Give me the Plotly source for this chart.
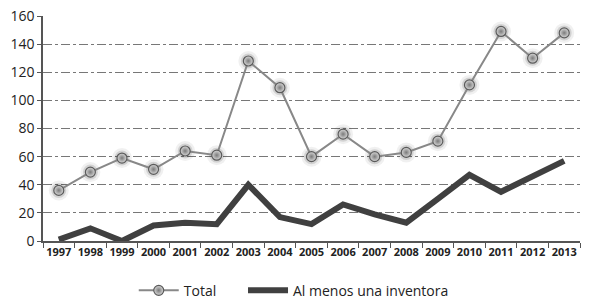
import plotly.graph_objects as go

years = [str(y) for y in range(1997, 2014)]
total = [36, 49, 59, 51, 64, 61, 128, 109, 60, 76, 60, 63, 71, 111, 149, 130, 148]
inventora = [1, 9, 0, 11, 13, 12, 40, 17, 12, 26, 19, 13, 30, 47, 35, 46, 57]
y_ticks = [0, 20, 40, 60, 80, 100, 120, 140, 160]

fig = go.Figure()

fig.add_trace(go.Scatter(
    x=years, y=inventora, mode="lines", name="Al menos una inventora",
    line=dict(color="#404040", width=6), showlegend=False))

fig.add_trace(go.Scatter(x=years, y=total, mode="markers", showlegend=False,
                         hoverinfo="skip",
                         marker=dict(size=20, color="rgba(0,0,0,0.06)", line=dict(width=0))))
fig.add_trace(go.Scatter(x=years, y=total, mode="markers", showlegend=False,
                         hoverinfo="skip",
                         marker=dict(size=15, color="rgba(0,0,0,0.12)", line=dict(width=0))))

fig.add_trace(go.Scatter(
    x=years, y=total, mode="lines+markers", name="Total" + "\u00a0" * 6,
    line=dict(color="#888888", width=2),
    marker=dict(size=10, color="#d8d8d8", gradient=dict(type="radial", color="#7a7a7a"),
                line=dict(color="#5a5a5a", width=1.2))))

fig.add_trace(go.Scatter(
    x=[None], y=[None], mode="lines", name="Al menos una inventora",
    line=dict(color="#404040", width=6)))

fig.update_layout(
    width=589, height=305,
    margin=dict(l=43, r=9, t=16, b=64, autoexpand=False),
    paper_bgcolor="white", plot_bgcolor="white",
    font=dict(family="Open Sans", color="#222"),
    showlegend=True,
    legend=dict(orientation="h", x=0.169, xanchor="left", y=-0.15, yanchor="top",
                font=dict(size=14, color="#222"), itemwidth=40),
    xaxis=dict(type="category", range=[-0.5, 16.5], showgrid=False,
               showline=True, linecolor="#555", linewidth=1.5, automargin=False,
               ticks="outside", ticklen=5, tickcolor="#555", tickson="boundaries",
               tickangle=0,
               tickfont=dict(size=11, family="Open Sans", weight="bold", color="#222")),
    yaxis=dict(range=[0, 160], tickvals=y_ticks, showgrid=True,
               gridcolor="#777", griddash="dashdot", gridwidth=1,
               showline=True, linecolor="#555", linewidth=1.5,
               ticks="outside", ticklen=4, tickcolor="#555",
               zeroline=False, automargin=False,
               tickfont=dict(size=14, color="#222")),
)

fig.write_html("out.html", config={"displayModeBar": False},
               post_script="document.body.style.margin='0';"
                           "document.documentElement.style.overflow='hidden';"
                           "document.body.style.overflow='hidden';")
